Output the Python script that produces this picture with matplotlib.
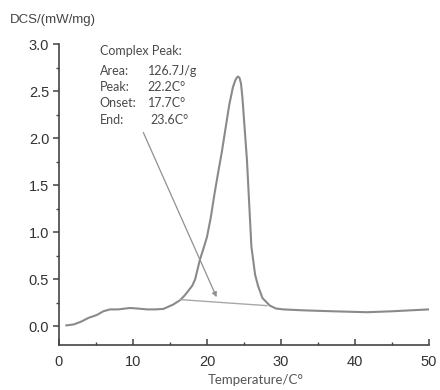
import matplotlib
matplotlib.use("Agg")
import matplotlib.pyplot as plt
from matplotlib.ticker import MultipleLocator

# DSC trace
temp = [1.0, 2.0, 3.0, 4.0, 5.1, 6.0, 6.9, 8.0, 9.6, 10.5, 11.9, 13.0, 14.1, 15.4,
        16.4, 17.0, 18.0, 18.4, 19.05, 19.5, 20.0, 20.5, 21.0, 21.5, 22.0, 22.5,
        23.0, 23.5, 23.8, 24.0, 24.2, 24.4, 24.6, 24.8, 25.0, 25.4, 26.0, 26.5,
        26.9, 27.5, 28.5, 29.3, 30.3, 33.0, 37.0, 41.6, 45.0, 50.0]
heat = [0.01, 0.02, 0.05, 0.09, 0.12, 0.16, 0.18, 0.18, 0.195, 0.19, 0.18, 0.18,
        0.185, 0.23, 0.28, 0.33, 0.43, 0.50, 0.71, 0.82, 0.95, 1.15, 1.40, 1.63,
        1.85, 2.10, 2.35, 2.54, 2.61, 2.64, 2.655, 2.64, 2.58, 2.42, 2.20, 1.77,
        0.85, 0.55, 0.43, 0.30, 0.22, 0.19, 0.18, 0.17, 0.16, 0.15, 0.16, 0.18]

baseline_x = [16.35, 28.1]
baseline_y = [0.284, 0.22]

arrow_tail = (11.4, 2.06)
arrow_head = (21.3, 0.31)

info_keys = ["Area:", "Peak:", "Onset:", "End:"]
info_vals = ["126.7J/g", "22.2C°", "17.7C°", "23.6C°"]
info_y = [2.71, 2.54, 2.37, 2.19]

plt.rcParams["font.family"] = ["Liberation Sans", "DejaVu Sans"]
note_font = ["Lato", "DejaVu Sans"]

fig = plt.figure(figsize=(4.4, 3.9), dpi=100)
ax = fig.add_axes([0.134, 0.115, 0.841, 0.772])

ax.plot(temp, heat, color="#8a8a8a", lw=1.5)
ax.plot(baseline_x, baseline_y, color="#a8a8a8", lw=1.0)
ax.annotate("", xy=arrow_head, xytext=arrow_tail,
            arrowprops=dict(arrowstyle="-|>", color="#909090", lw=0.9,
                            mutation_scale=7, shrinkA=0, shrinkB=0))

ax.text(5.5, 2.93, "Complex Peak:", fontsize=9, color="#4a4a4a", va="center",
        family=note_font)
for i, (k, v) in enumerate(zip(info_keys, info_vals)):
    ax.text(5.5, info_y[i], k, fontsize=9, color="#4a4a4a", va="center",
            family=note_font)
    ax.text(12.0 if i < 3 else 12.4, info_y[i], v, fontsize=9, color="#4a4a4a",
            va="center", family=note_font)

ax.set_xlim(0, 50)
ax.set_ylim(-0.2, 3.0)
ax.xaxis.set_major_locator(MultipleLocator(10))
ax.xaxis.set_minor_locator(MultipleLocator(5))
ax.yaxis.set_minor_locator(MultipleLocator(0.25))
ax.set_yticks([0.0, 0.5, 1.0, 1.5, 2.0, 2.5, 3.0])
ax.set_yticklabels(["0.0", "0.5", "1.0", "1.5", "2.0", "2.5", "3.0"])

for side in ("top", "right"):
    ax.spines[side].set_visible(False)
for side in ("left", "bottom"):
    ax.spines[side].set_color("#444444")
    ax.spines[side].set_linewidth(1.2)

ax.tick_params(axis="x", which="major", direction="in", length=4, width=1.1,
               colors="#444444", labelsize=10.5, labelcolor="#333333", pad=7)
ax.tick_params(axis="x", which="minor", direction="in", length=2.5, width=1.0,
               colors="#444444")
ax.tick_params(axis="y", which="major", direction="out", length=4, width=1.1,
               colors="#444444", labelsize=10.5, labelcolor="#333333", pad=3)
ax.tick_params(axis="y", which="minor", direction="out", length=2, width=1.0,
               colors="#444444")

ax.set_xlabel("Temperature/C°", fontsize=9.5, color="#555555", family=note_font)
ax.xaxis.set_label_coords(0.532, -0.095)
fig.text(0.023, 0.949, "DCS/(mW/mg)", fontsize=9.5, color="#444444", va="center")

fig.savefig("out.png", dpi=100)
plt.close(fig)
